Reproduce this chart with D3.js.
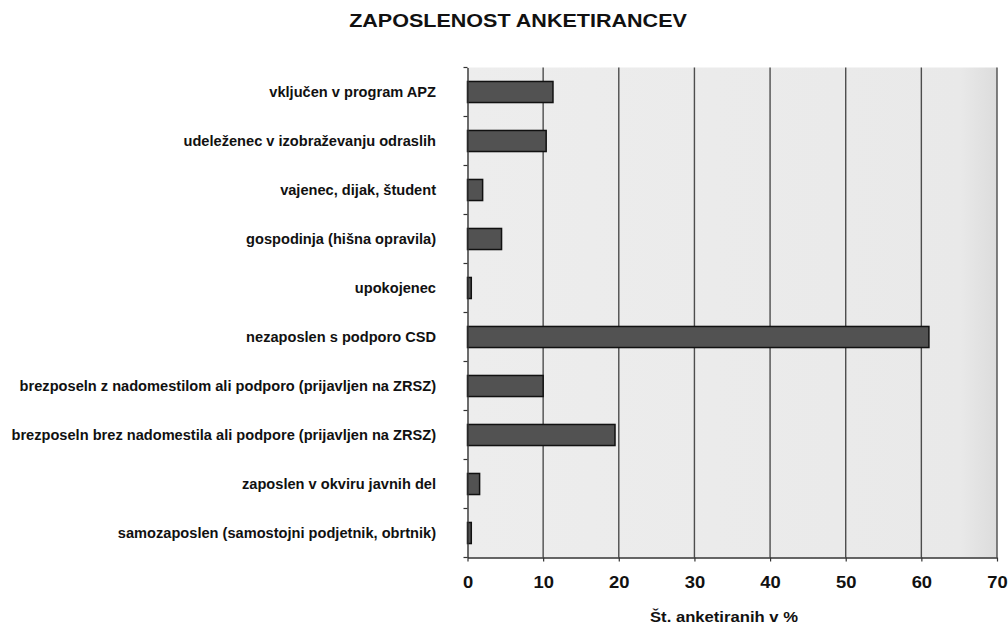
<!DOCTYPE html>
<html>
<head>
<meta charset="utf-8">
<script src="https://cdn.jsdelivr.net/npm/d3@7"></script>
<style>
  html, body { margin: 0; padding: 0; background: #ffffff; }
  svg { display: block; }
  text { font-family: "Liberation Sans", Arial, sans-serif; fill: #111; }
</style>
</head>
<body>
<svg id="chart" width="1008" height="628"></svg>
<script>
// ---- data ----
const categories = [
  "vključen v program APZ",
  "udeleženec v izobraževanju odraslih",
  "vajenec, dijak, študent",
  "gospodinja (hišna opravila)",
  "upokojenec",
  "nezaposlen s podporo CSD",
  "brezposeln z nadomestilom ali podporo (prijavljen na ZRSZ)",
  "brezposeln brez nadomestila ali podpore (prijavljen na ZRSZ)",
  "zaposlen v okviru javnih del",
  "samozaposlen (samostojni podjetnik, obrtnik)"
];
const values = [11.3, 10.4, 2.0, 4.5, 0.5, 61.0, 10.0, 19.5, 1.6, 0.5];
const xTicks = [0, 10, 20, 30, 40, 50, 60, 70];
const titleText = "ZAPOSLENOST ANKETIRANCEV";
const xAxisTitle = "Št. anketiranih v %";

// ---- layout ----
const plot = { left: 467.5, right: 997, top: 67.5, bottom: 557.5 };

const svg = d3.select("#chart");

const x = d3.scaleLinear().domain([0, 70]).range([plot.left, plot.right]);
const y = d3.scaleBand().domain(categories).range([plot.top, plot.bottom])
  .paddingInner(0.57).paddingOuter(0.285);

// background with slight shading on the right edge
const defs = svg.append("defs");
const grad = defs.append("linearGradient").attr("id", "bg").attr("x1", "0").attr("x2", "1").attr("y1", "0").attr("y2", "0");
grad.append("stop").attr("offset", "0").attr("stop-color", "#ededed");
grad.append("stop").attr("offset", "0.93").attr("stop-color", "#e9e9e9");
grad.append("stop").attr("offset", "1").attr("stop-color", "#dcdcdc");

svg.append("rect")
  .attr("x", plot.left).attr("y", plot.top)
  .attr("width", plot.right - plot.left).attr("height", plot.bottom - plot.top)
  .attr("fill", "url(#bg)");

// gridlines
svg.append("g")
  .selectAll("line")
  .data(xTicks.filter(d => d > 0))
  .join("line")
  .attr("x1", d => x(d)).attr("x2", d => x(d))
  .attr("y1", plot.top).attr("y2", plot.bottom)
  .attr("stroke", "#4d4d4d").attr("stroke-width", 1.4);

// bars
svg.append("g")
  .selectAll("rect")
  .data(categories)
  .join("rect")
  .attr("x", x(0))
  .attr("y", d => y(d))
  .attr("width", (d, i) => x(values[i]) - x(0))
  .attr("height", y.bandwidth())
  .attr("fill", "#525252")
  .attr("stroke", "#111")
  .attr("stroke-width", 1.5);

// x axis
const xAxis = svg.append("g")
  .attr("transform", `translate(0,${plot.bottom})`)
  .call(d3.axisBottom(x).tickValues(xTicks).tickSize(4).tickPadding(14).tickSizeOuter(0));
xAxis.select(".domain").attr("stroke", "#333").attr("stroke-width", 1.4);
xAxis.selectAll(".tick line").attr("stroke", "#333").attr("stroke-width", 1.2);
xAxis.selectAll(".tick text")
  .style("font-family", "'Liberation Sans', Arial, sans-serif")
  .style("font-size", "16px").style("font-weight", "bold").attr("fill", "#111")
  .attr("transform", "scale(1.15,1)")
  .attr("dy", "0.76em");

// y axis (line + labels)
const labelGap = plot.left - 436;
const yAxis = svg.append("g")
  .attr("transform", `translate(${plot.left},0)`)
  .call(d3.axisLeft(y).tickSize(0).tickPadding(labelGap).tickSizeOuter(0));
yAxis.select(".domain").attr("stroke", "#333").attr("stroke-width", 1.4);
const yLabels = yAxis.selectAll(".tick text")
  .style("font-family", "'Liberation Sans', Arial, sans-serif")
  .style("font-size", "15px").style("font-weight", "bold").attr("fill", "#111");

// compress labels horizontally to match the condensed typeface
let maxW = 0;
yLabels.each(function () { maxW = Math.max(maxW, this.getComputedTextLength()); });
const sx = 425 / maxW;
yLabels.attr("x", -labelGap / sx).attr("transform", `scale(${sx},1)`);

// band-boundary ticks on the y axis
const step = y.step();
const bounds = d3.range(categories.length + 1).map(i => plot.top + i * step);
svg.append("g")
  .selectAll("line")
  .data(bounds)
  .join("line")
  .attr("x1", plot.left - 4).attr("x2", plot.left)
  .attr("y1", d => d).attr("y2", d => d)
  .attr("stroke", "#333").attr("stroke-width", 1.2);

// title
const t = svg.append("text")
  .attr("text-anchor", "middle")
  .style("font-size", "19px").style("font-weight", "bold")
  .text(titleText);
const tw = t.node().getComputedTextLength();
t.attr("transform", `translate(518,27) scale(${338 / tw},1)`);

// x axis title
const at = svg.append("text")
  .attr("text-anchor", "middle")
  .style("font-size", "15.5px").style("font-weight", "bold")
  .text(xAxisTitle);
const aw = at.node().getComputedTextLength();
at.attr("transform", `translate(724,622) scale(${148 / aw},1)`);
</script>
</body>
</html>
